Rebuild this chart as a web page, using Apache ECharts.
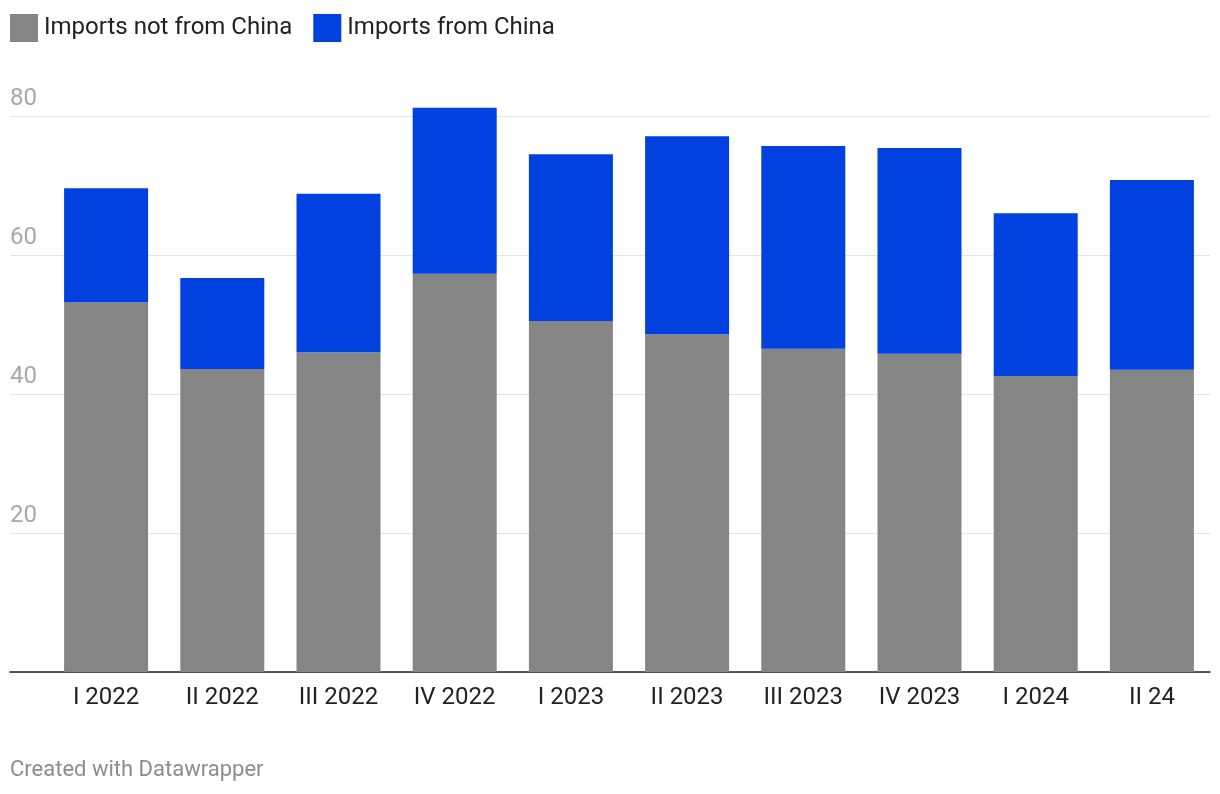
<!DOCTYPE html>
<html>
<head>
<meta charset="utf-8">
<script src="https://cdn.jsdelivr.net/npm/echarts@6/dist/echarts.min.js"></script>
<style>
html,body{margin:0;padding:0;background:#fff;}
#chart{width:1220px;height:794px;}
</style>
</head>
<body>
<div id="chart"></div>
<script>
const categories = ['I 2022','II 2022','III 2022','IV 2022','I 2023','II 2023','III 2023','IV 2023','I 2024','II 24'];
const notFromChina = [53.2, 43.6, 46.0, 57.3, 50.5, 48.6, 46.5, 45.8, 42.6, 43.5];
const fromChina = [16.4, 13.1, 22.8, 23.9, 24.0, 28.5, 29.2, 29.6, 23.4, 27.3];
const yTicks = [20, 40, 60, 80];

const FONT = 'Roboto, "Noto Sans", sans-serif';
const chart = echarts.init(document.getElementById('chart'), null, {renderer: 'canvas'});
chart.setOption({
  backgroundColor: '#ffffff',
  animation: false,
  textStyle: {fontFamily: FONT},
  legend: {
    left: 10, top: 14, padding: 0,
    itemWidth: 28, itemHeight: 28, itemGap: 21,
    icon: 'rect',
    textStyle: {fontSize: 24, color: '#222222', fontFamily: FONT, padding: [0,0,3,1]},
    data: ['Imports not from China', 'Imports from China']
  },
  grid: [
    {left: 10, right: 10, top: 116, bottom: 122},
    {left: 48, right: 10, top: 116, bottom: 122}
  ],
  xAxis: [
    {gridIndex: 0, type: 'category', data: categories,
     axisLine: {show: true, lineStyle: {color: '#222222', width: 1.5}},
     axisTick: {show: false}, axisLabel: {show: false}, splitLine: {show: false}},
    {gridIndex: 1, type: 'category', data: categories,
     axisLine: {show: false}, axisTick: {show: false},
     axisLabel: {fontSize: 24, color: '#222222', margin: 14, fontFamily: FONT, interval: 0}}
  ],
  yAxis: [
    {gridIndex: 0, type: 'value', min: 0, max: 80, interval: 20,
     axisLine: {show: false}, axisTick: {show: false},
     splitLine: {show: true, lineStyle: {color: '#e3e3e3', width: 1}},
     axisLabel: {inside: true, margin: 0, align: 'left', verticalAlign: 'bottom',
       padding: [0,0,5,0], fontSize: 24, color: '#a8a8a8', fontFamily: FONT,
       formatter: v => yTicks.includes(v) ? String(v) : ''}},
    {gridIndex: 1, type: 'value', min: 0, max: 80, interval: 20, show: false,
     splitLine: {show: false}}
  ],
  series: [
    {name: 'Imports not from China', type: 'bar', stack: 'total', xAxisIndex: 1, yAxisIndex: 1,
     data: notFromChina, barWidth: 84, clip: false, itemStyle: {color: '#858585'}},
    {name: 'Imports from China', type: 'bar', stack: 'total', xAxisIndex: 1, yAxisIndex: 1,
     data: fromChina, barWidth: 84, clip: false, itemStyle: {color: '#0041e0'}}
  ],
  graphic: [
    {type: 'text', left: 10, top: 759,
     style: {text: 'Created with Datawrapper', fontSize: 22, fill: '#8c8c8c', fontFamily: FONT}}
  ]
});
</script>
</body>
</html>
